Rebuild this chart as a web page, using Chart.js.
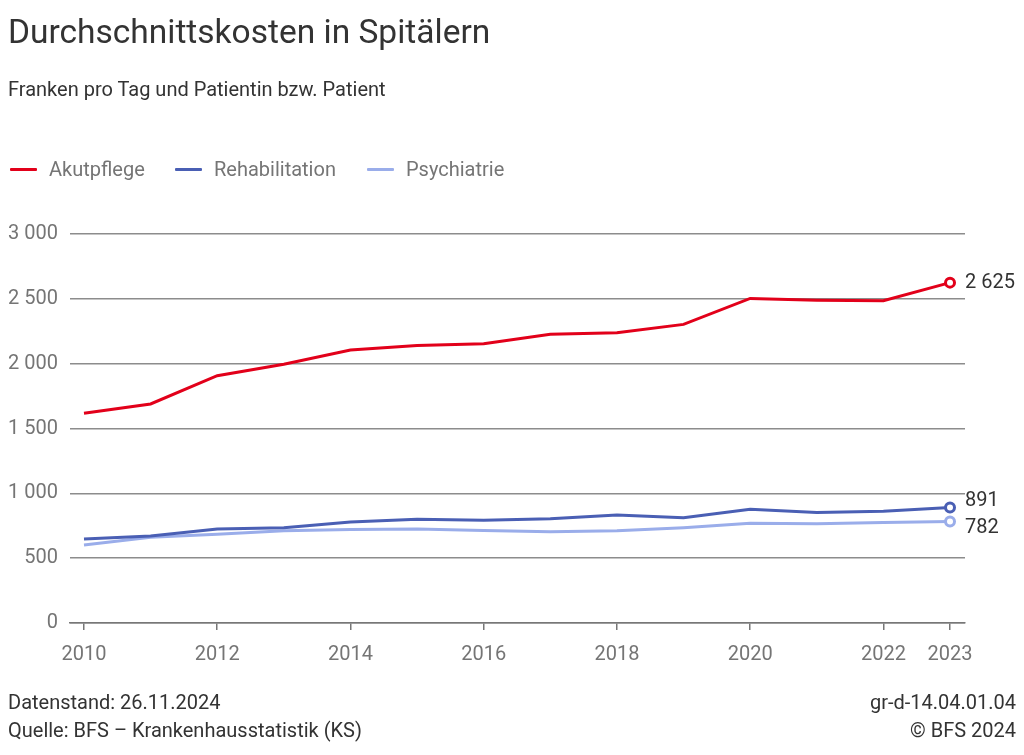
<!DOCTYPE html>
<html>
<head>
<meta charset="utf-8">
<script src="https://cdn.jsdelivr.net/npm/chart.js@4/dist/chart.umd.min.js"></script>
<style>
  html, body { margin:0; padding:0; background:#fff; }
  body { width:1024px; height:755px; position:relative; overflow:hidden; font-family: Roboto, "Noto Sans", sans-serif; }
  #wrap { position:absolute; left:0; top:0; width:1024px; height:755px; }
  .t { position:absolute; white-space:nowrap; line-height:1.15; }
  #title { left:8px; top:13px; font-size:33.5px; color:#333; }
  #subtitle { left:8px; top:78px; font-size:20px; color:#333; }
  #legend { position:absolute; left:10px; top:157px; height:24px; }
  .li { position:absolute; top:0; font-size:20px; color:#757575; line-height:24px; }
  .li span.sw { position:absolute; left:0; top:11px; width:27px; height:3px; border-radius:1px; }
  .li span.tx { position:absolute; left:39px; top:0; white-space:nowrap; }
  .foot { font-size:20px; color:#333; }
</style>
</head>
<body>
<div id="wrap"><canvas id="c" width="1024" height="755"></canvas></div>
<div class="t" id="title">Durchschnittskosten in Spitälern</div>
<div class="t" id="subtitle">Franken pro Tag und Patientin bzw. Patient</div>
<div id="legend"></div>
<div class="t foot" style="left:8px; top:691px;">Datenstand: 26.11.2024</div>
<div class="t foot" style="left:8px; top:719px;">Quelle: BFS – Krankenhausstatistik (KS)</div>
<div class="t foot" style="right:8px; top:691px;">gr-d-14.04.01.04</div>
<div class="t foot" style="right:8px; top:719px;">© BFS 2024</div>
<script>
const years = [2010, 2011, 2012, 2013, 2014, 2015, 2016, 2017, 2018, 2019, 2020, 2021, 2022, 2023];
const akutpflege = [1618, 1689, 1907, 1995, 2105, 2141, 2154, 2226, 2238, 2303, 2503, 2490, 2485, 2625];
const rehabilitation = [648, 671, 725, 735, 779, 800, 792, 804, 833, 812, 877, 853, 861, 891];
const psychiatrie = [601, 661, 684, 712, 722, 725, 714, 704, 712, 735, 769, 765, 776, 782];
const seriesNames = ["Akutpflege", "Rehabilitation", "Psychiatrie"];
const seriesColors = ["#e2001a", "#4a5fb4", "#9aadea"];
const xTickYears = [2010, 2012, 2014, 2016, 2018, 2020, 2022, 2023];
const yTicks = [0, 500, 1000, 1500, 2000, 2500, 3000];

function fmtSp(v) {
  return String(Math.round(v)).replace(/\B(?=(\d{3})+(?!\d))/g, " ");
}

// legend
const legend = document.getElementById('legend');
const legendX = [0, 165, 357];
seriesNames.forEach((n, i) => {
  const d = document.createElement('div');
  d.className = 'li';
  d.style.left = legendX[i] + 'px';
  d.innerHTML = '<span class="sw" style="background:' + seriesColors[i] + '"></span><span class="tx">' + n + '</span>';
  legend.appendChild(d);
});

const allSeries = [akutpflege, rehabilitation, psychiatrie];
const datasets = allSeries.map((vals, i) => ({
  label: seriesNames[i],
  data: years.map((y, k) => ({ x: y, y: vals[k] })),
  borderColor: seriesColors[i],
  backgroundColor: '#fff',
  borderWidth: 3,
  pointRadius: years.map((y, k) => k === years.length - 1 ? 4.5 : 0),
  pointHoverRadius: 0,
  pointBackgroundColor: '#fff',
  pointBorderColor: seriesColors[i],
  pointBorderWidth: 3,
  tension: 0,
  fill: false,
  order: i
}));

const endLabels = {
  id: 'endLabels',
  afterDatasetsDraw(chart) {
    const ctx = chart.ctx;
    const items = chart.data.datasets.map((ds, i) => {
      const meta = chart.getDatasetMeta(i);
      const pt = meta.data[meta.data.length - 1];
      return { x: pt.x, y: pt.y, text: fmtSp(ds.data[ds.data.length - 1].y) };
    });
    const sorted = items.slice().sort((a, b) => a.y - b.y);
    const minGap = 27;
    for (let k = 1; k < sorted.length; k++) {
      const a = sorted[k - 1], b = sorted[k];
      if (b.y - a.y < minGap) {
        const mid = (a.y + b.y) / 2;
        a.y = mid - minGap / 2;
        b.y = mid + minGap / 2;
      }
    }
    ctx.save();
    ctx.font = '20px Roboto, "Noto Sans", sans-serif';
    ctx.fillStyle = '#333';
    ctx.textAlign = 'left';
    ctx.textBaseline = 'middle';
    items.forEach(it => ctx.fillText(it.text, it.x + 15, it.y));
    ctx.restore();
  }
};

new Chart(document.getElementById('c'), {
  type: 'line',
  data: { datasets },
  options: {
    responsive: false,
    animation: false,
    events: [],
    layout: { padding: { left: 0, right: 59, top: 234, bottom: 0 } },
    plugins: { legend: { display: false }, title: { display: false }, tooltip: { enabled: false } },
    scales: {
      x: {
        type: 'linear',
        min: 2009.79,
        max: 2023.225,
        afterBuildTicks: s => { s.ticks = xTickYears.map(v => ({ value: v })); },
        afterFit: s => { s.height = 132; },
        grid: { drawOnChartArea: false, drawTicks: true, tickLength: 7, color: '#777', lineWidth: 1.5 },
        border: { display: true, color: '#777', width: 1.5 },
        ticks: { autoSkip: false, maxRotation: 0, padding: 13, color: '#757575', font: { family: 'Roboto', size: 20 }, callback: v => String(v) }
      },
      y: {
        min: 0,
        max: 3000,
        afterBuildTicks: s => { s.ticks = yTicks.map(v => ({ value: v })); },
        afterFit: s => { s.width = 70; },
        grid: { drawTicks: false, color: '#8c8c8c', lineWidth: 1.5 },
        border: { display: false },
        ticks: { padding: 12, color: '#757575', font: { family: 'Roboto', size: 20 }, callback: v => fmtSp(v) }
      }
    }
  },
  plugins: [endLabels]
});
</script>
</body>
</html>
